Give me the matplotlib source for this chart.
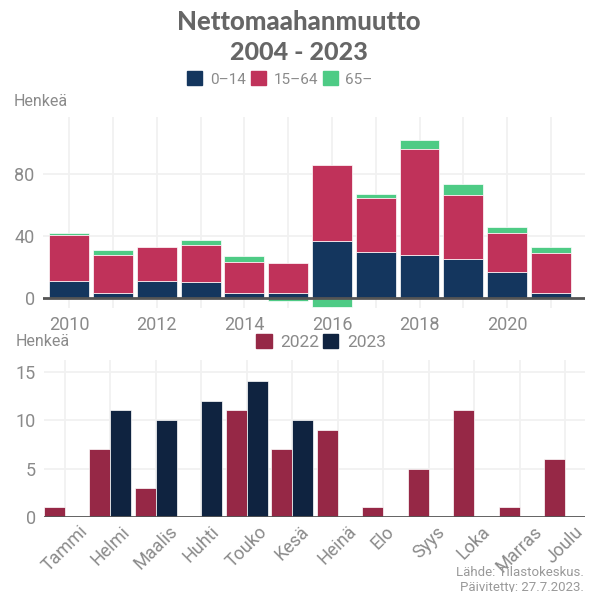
import numpy as np
import matplotlib
matplotlib.use("Agg")
from matplotlib import pyplot as plt
from matplotlib.patches import Patch

plt.rcParams['font.family'] = ['Roboto', 'DejaVu Sans']

# ylempi kuva: nettomaahanmuutto ikäryhmittäin
years = list(range(2010, 2022))
age_0_14 = [11, 3, 11, 10, 3, 3, 37, 30, 28, 25, 17, 3]
age_15_64 = [29.5, 24.5, 22, 24, 20.5, 19.5, 49, 34.5, 68.5, 41.5, 25, 26]
age_65 = [1.5, 3.5, 0, 3.5, 3.5, -2, -6, 2.5, 5.5, 7.5, 4, 4]

# alempi kuva: kuukausittain
months = ["Tammi", "Helmi", "Maalis", "Huhti", "Touko", "Kesä",
          "Heinä", "Elo", "Syys", "Loka", "Marras", "Joulu"]
v2022 = [1, 7, 3, 0, 11, 7, 9, 1, 5, 11, 1, 6]
v2023 = [0, 11, 10, 12, 14, 10]

c_navy = "#14365e"
c_red = "#c0325a"
c_green = "#4ecb85"
c_2022 = "#962846"
c_2023 = "#0f2340"
grey_txt = "#8a8a8a"
grid_c = "#f1f1f1"

fig = plt.figure(figsize=(5.98, 5.92), dpi=100)

# --- ylempi ---
ax1 = fig.add_axes([43 / 598, 1 - 308 / 592, (585 - 43) / 598, (308 - 117) / 592])
x = np.array(years)
a = np.array(age_0_14)
b = np.array(age_15_64)
g = np.array(age_65)
w = 0.91
ax1.bar(x, a, w, color=c_navy, edgecolor="white", linewidth=0.5, zorder=3)
ax1.bar(x, b, w, bottom=a, color=c_red, edgecolor="white", linewidth=0.5, zorder=3)
g_bottom = np.where(g >= 0, a + b, 0)
ax1.bar(x, g, w, bottom=g_bottom, color=c_green, edgecolor="white", linewidth=0.5, zorder=2)
ax1.axhline(0, color="#555555", linewidth=2, zorder=4)
ax1.set_xlim(2009.4, 2021.78)
ax1.set_ylim(-6.5, 117)
ax1.set_xticks(years)
ax1.set_xticklabels([str(y) if y % 2 == 0 else "" for y in years])
ax1.set_yticks([0, 40, 80])
ax1.grid(True, color=grid_c, linewidth=1.3, zorder=0)
ax1.set_axisbelow(True)
for s in ax1.spines.values():
    s.set_visible(False)
ax1.tick_params(length=0, labelsize=13, labelcolor=grey_txt, pad=6)

# --- alempi ---
ax2 = fig.add_axes([44 / 598, 1 - 517 / 592, (585 - 44) / 598, (517 - 360) / 592])
m = np.arange(len(months))
bw = 0.46
ax2.bar(m - bw / 2, v2022, bw, color=c_2022, edgecolor="white", linewidth=0.5, zorder=3)
ax2.bar(m[:len(v2023)] + bw / 2, v2023, bw, color=c_2023, edgecolor="white", linewidth=0.5, zorder=3)
ax2.axhline(0, color="#555555", linewidth=2, zorder=4)
ax2.set_xlim(-0.46, 11.44)
ax2.set_ylim(0, 16.2)
ax2.set_yticks([0, 5, 10, 15])
ax2.set_xticks(m)
ax2.set_xticklabels(months, rotation=45)
ax2.grid(True, color=grid_c, linewidth=1.3, zorder=0)
ax2.set_axisbelow(True)
for s in ax2.spines.values():
    s.set_visible(False)
ax2.tick_params(length=0, labelsize=13, labelcolor=grey_txt, pad=6)
ax2.tick_params(axis="x", pad=4)

# otsikko ja selitteet
fig.text(0.5, 1 - 22 / 592, "Nettomaahanmuutto", ha="center", va="center",
         fontsize=18.5, fontweight="black", color="#666666", family=["Lato", "DejaVu Sans"])
fig.text(0.5, 1 - 52 / 592, "2004 - 2023", ha="center", va="center",
         fontsize=18, fontweight="black", color="#666666", family=["Lato", "DejaVu Sans"])

h1 = [Patch(color=c_navy, label="0–14"), Patch(color=c_red, label="15–64"),
      Patch(color=c_green, label="65–")]
leg1 = fig.legend(handles=h1, loc="center", bbox_to_anchor=(280 / 598, 1 - 79 / 592),
                  ncol=3, frameon=False, fontsize=11, handlelength=1.0, handleheight=1.0,
                  handletextpad=0.5, columnspacing=0.3)
for t in leg1.get_texts():
    t.set_color(grey_txt)

h2 = [Patch(color=c_2022, label="2022"), Patch(color=c_2023, label="2023")]
leg2 = fig.legend(handles=h2, loc="center", bbox_to_anchor=(321 / 598, 1 - 342 / 592),
                  ncol=2, frameon=False, fontsize=12.5, handlelength=0.9, handleheight=0.9,
                  handletextpad=0.5, columnspacing=0.2)
for t in leg2.get_texts():
    t.set_color(grey_txt)

fig.text(14 / 598, 1 - 101 / 592, "Henkeä", ha="left", va="center", fontsize=11.5, color=grey_txt)
fig.text(16 / 598, 1 - 342 / 592, "Henkeä", ha="left", va="center", fontsize=11.5, color=grey_txt)

fig.text(584 / 598, 1 - 572 / 592, "Lähde: Tilastokeskus.", ha="right", va="center",
         fontsize=9.5, color="#999999")
fig.text(584 / 598, 1 - 587 / 592, "Päivitetty: 27.7.2023.", ha="right", va="center",
         fontsize=9.5, color="#999999")

fig.savefig("out.png", dpi=100)
